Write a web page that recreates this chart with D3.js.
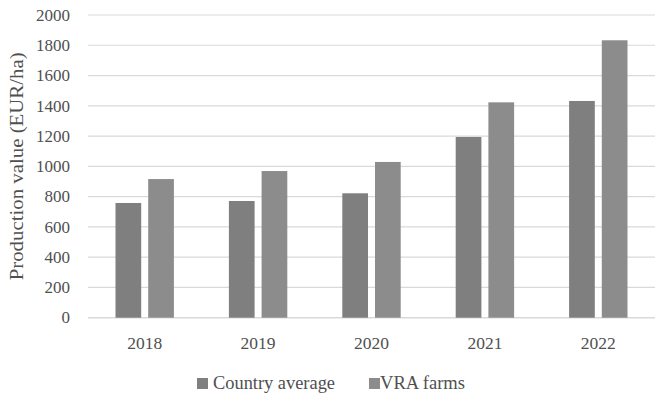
<!DOCTYPE html>
<html>
<head>
<meta charset="utf-8">
<script src="https://cdn.jsdelivr.net/npm/d3@7"></script>
<style>
  html, body { margin: 0; padding: 0; background: #fff; }
  svg { display: block; }
  text { font-family: "Liberation Serif", "DejaVu Serif", serif; fill: #505050; }
</style>
</head>
<body>
<svg id="chart" width="659" height="396"></svg>
<script>
// Production value per hectare, 2018–2022
const years = ["2018", "2019", "2020", "2021", "2022"];
const seriesNames = ["Country average", "VRA farms"];
const countryAverage = [758, 771, 822, 1194, 1432];
const vraFarms = [916, 969, 1029, 1423, 1833];
const yTicks = [0, 200, 400, 600, 800, 1000, 1200, 1400, 1600, 1800, 2000];

const colors = { "Country average": "#7f7f7f", "VRA farms": "#8c8c8c" };

const rows = years.map((y, i) => ({
  year: y,
  values: [
    { key: "Country average", value: countryAverage[i] },
    { key: "VRA farms", value: vraFarms[i] }
  ]
}));

const svg = d3.select("#chart");
const plot = { left: 88, right: 655, top: 15, bottom: 317.7 };

const x0 = d3.scaleBand().domain(years).range([plot.left, plot.right]).paddingInner(0).paddingOuter(0);
const x1 = d3.scaleBand().domain(seriesNames).range([0, x0.bandwidth()])
  .paddingInner(0.214).paddingOuter(0.841);
const y = d3.scaleLinear().domain([0, 2000]).range([plot.bottom, plot.top]);

// horizontal gridlines
svg.append("g")
  .selectAll("line")
  .data(yTicks)
  .join("line")
  .attr("x1", plot.left)
  .attr("x2", plot.right)
  .attr("y1", d => y(d))
  .attr("y2", d => y(d))
  .attr("stroke", "#d9d9d9")
  .attr("stroke-width", d => d === 0 ? 1.5 : 1.2);

// y tick labels
svg.append("g")
  .selectAll("text")
  .data(yTicks)
  .join("text")
  .attr("x", 70)
  .attr("y", d => y(d))
  .attr("dy", "0.34em")
  .attr("text-anchor", "end")
  .style("font-size", "17px")
  .text(d => d);

// bars
svg.append("g")
  .selectAll("g")
  .data(rows)
  .join("g")
  .attr("transform", d => `translate(${x0(d.year)},0)`)
  .selectAll("rect")
  .data(d => d.values)
  .join("rect")
  .attr("x", d => x1(d.key))
  .attr("width", x1.bandwidth())
  .attr("y", d => y(d.value))
  .attr("height", d => y(0) - y(d.value))
  .attr("fill", d => colors[d.key]);

// x tick labels
svg.append("g")
  .selectAll("text")
  .data(years)
  .join("text")
  .attr("x", d => x0(d) + x0.bandwidth() / 2)
  .attr("y", 349)
  .attr("text-anchor", "middle")
  .style("font-size", "17px")
  .attr("textLength", 35)
  .attr("lengthAdjust", "spacingAndGlyphs")
  .text(d => d);

// y axis title
svg.append("text")
  .attr("transform", `translate(23,${(plot.top + plot.bottom) / 2}) rotate(-90)`)
  .attr("text-anchor", "middle")
  .style("font-size", "18px")
  .attr("textLength", 228)
  .attr("lengthAdjust", "spacingAndGlyphs")
  .text("Production value (EUR/ha)");

// legend
const legendItems = [
  { key: "Country average", sx: 197, tx: 213, w: 122 },
  { key: "VRA farms", sx: 369, tx: 380, w: 85 }
];
const legend = svg.append("g");
legend.selectAll("rect")
  .data(legendItems)
  .join("rect")
  .attr("x", d => d.sx)
  .attr("y", 378)
  .attr("width", 11)
  .attr("height", 11)
  .attr("fill", d => colors[d.key]);
legend.selectAll("text")
  .data(legendItems)
  .join("text")
  .attr("x", d => d.tx)
  .attr("y", 389)
  .style("font-size", "18px")
  .attr("textLength", d => d.w)
  .attr("lengthAdjust", "spacingAndGlyphs")
  .text(d => d.key);
</script>
</body>
</html>
